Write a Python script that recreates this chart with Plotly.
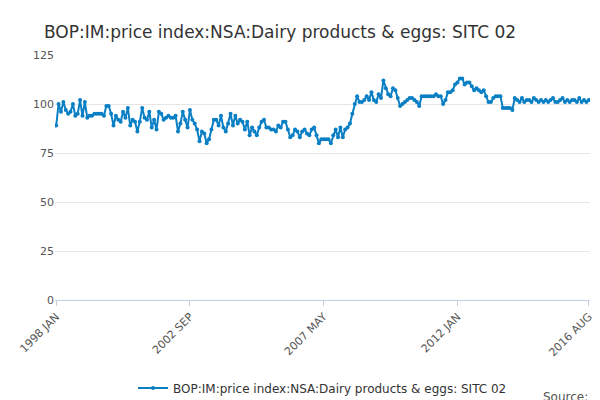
import plotly.graph_objects as go

months = ["JAN", "FEB", "MAR", "APR", "MAY", "JUN", "JUL", "AUG", "SEP", "OCT", "NOV", "DEC"]

values_by_year = {
    1998: [89, 100, 96, 101, 97, 95, 96, 100, 94, 95, 102, 94],
    1999: [101, 93, 94, 94, 95, 95, 95, 95, 94, 99, 99, 95],
    2000: [89, 94, 92, 91, 96, 93, 98, 89, 92, 91, 86, 91],
    2001: [98, 93, 92, 96, 88, 92, 87, 96, 95, 92, 93, 94],
    2002: [93, 93, 94, 86, 90, 96, 92, 88, 97, 92, 90, 87],
    2003: [81, 86, 85, 80, 82, 87, 92, 92, 89, 94, 88, 86],
    2004: [90, 95, 89, 94, 90, 92, 91, 87, 91, 84, 88, 86],
    2005: [84, 88, 91, 92, 88, 88, 87, 87, 86, 89, 88, 91],
    2006: [91, 87, 83, 84, 87, 86, 83, 86, 87, 85, 84, 87],
    2007: [88, 84, 80, 82, 82, 82, 82, 80, 84, 87, 83, 88],
    2008: [83, 87, 88, 90, 95, 100, 104, 101, 101, 102, 104, 102],
    2009: [106, 102, 101, 105, 103, 112, 108, 105, 104, 108, 107, 103],
    2010: [99, 100, 101, 102, 103, 103, 102, 101, 99, 104, 104, 104],
    2011: [104, 104, 104, 105, 104, 104, 100, 102, 106, 106, 107, 110],
    2012: [111, 113, 113, 110, 111, 111, 109, 107, 108, 107, 106, 107],
    2013: [104, 101, 101, 103, 104, 104, 104, 98, 98, 98, 98, 97],
    2014: [103, 102, 101, 103, 101, 102, 102, 101, 103, 102, 101, 102],
    2015: [101, 102, 101, 102, 103, 101, 101, 102, 103, 101, 102, 101],
    2016: [102, 102, 101, 103, 101, 102, 101, 102],
}

labels = []
values = []
for year, vals in values_by_year.items():
    for i, v in enumerate(vals):
        labels.append(f"{year} {months[i]}")
        values.append(v)

tick_labels = ["1998 JAN", "2002 SEP", "2007 MAY", "2012 JAN", "2016 AUG"]
name = "BOP:IM:price index:NSA:Dairy products & eggs: SITC 02"

fig = go.Figure(go.Scatter(
    x=labels, y=values, mode="lines+markers", name=name,
    line=dict(color="#0a7fc4", width=2),
    marker=dict(size=4, color="#0a7fc4"),
))

fig.update_layout(
    width=600, height=400,
    font=dict(family="DejaVu Sans", color="#555"),
    title=dict(text=name, x=0.06, y=0.955, font=dict(size=17, color="#333")),
    plot_bgcolor="white", paper_bgcolor="white",
    margin=dict(l=47, r=18, t=47, b=108, autoexpand=False),
    showlegend=True,
    legend=dict(orientation="h", x=0.5, xanchor="center", y=-0.3, font=dict(size=12, color="#333")),
    annotations=[dict(text="Source:", x=1, y=0, xref="paper", yref="paper", xanchor="right",
                      yanchor="bottom", showarrow=False, font=dict(size=12, color="#555"), yshift=-106)],
)
fig.update_xaxes(type="category", tickvals=tick_labels, ticktext=tick_labels, tickangle=-45,
                 showline=True, linecolor="#c0d0e0", ticks="outside", tickcolor="#c0d0e0",
                 showgrid=False, tickfont=dict(size=11), range=[-0.5, len(labels) - 0.5],
                 automargin=False)
fig.update_yaxes(range=[0, 125], tickvals=[0, 25, 50, 75, 100, 125], gridcolor="#e6e6e6",
                 tickfont=dict(size=11), zeroline=False, automargin=False)

fig.write_html("out.html")
